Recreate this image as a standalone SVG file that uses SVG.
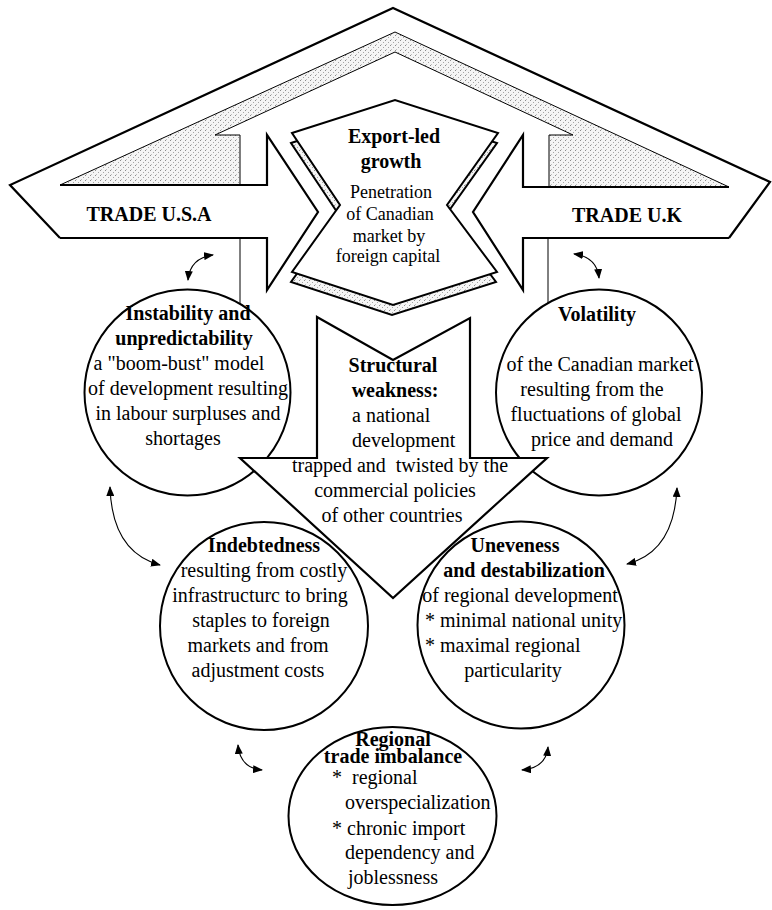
<svg xmlns="http://www.w3.org/2000/svg" width="772" height="910" viewBox="0 0 772 910">
<defs>
<pattern id="dots" width="5" height="5" patternUnits="userSpaceOnUse">
<rect width="5" height="5" fill="#f5f5f5"/>
<rect x="0" y="0" width="1" height="1" fill="#8c8c8c"/>
<rect x="3" y="2" width="1" height="1" fill="#a5a5a5"/>
<rect x="1" y="4" width="1" height="1" fill="#c0c0c0"/>
</pattern>
<marker id="ah" viewBox="0 0 10 8" refX="9" refY="4" markerWidth="10" markerHeight="8" markerUnits="userSpaceOnUse" orient="auto-start-reverse"><path d="M0,0 L10,4 L0,8 Z" fill="#000"/></marker>
</defs>
<style>
.thick{fill:none;stroke:#000;stroke-width:2.2;stroke-linejoin:miter}
.thin{fill:none;stroke:#000;stroke-width:1}
.t{font-family:"Liberation Serif","Times New Roman",serif;fill:#000;text-anchor:middle;font-size:20px}
.b{font-weight:bold}
.s18{font-size:18px}
.circ{stroke:#000;stroke-width:2}
.conn{fill:none;stroke:#000;stroke-width:1.1;marker-start:url(#ah);marker-end:url(#ah)}
</style>
<rect width="772" height="910" fill="#fff"/>

<g id="roof">
<polygon points="60,185 395,32 729,187 549,187 549,135 573,135 395,52 215,135 240,135 240,185" fill="url(#dots)" stroke="none"/>
<path class="thin" d="M60,185 L395,32 L729,187"/>
<path class="thin" d="M240,185 L240,135 L215,135 L395,52 L573,135 L549,135 L549,187"/>
<path class="thin" d="M240,238 L240,320 M548,238 L548,320"/>
<path class="thick" d="M60,238 L10,185 L393,8 L770,182 L729,238"/>
</g>

<g id="trade-usa">
<path class="thick" d="M60,185 L267,185 L267,135 L318,212 L267,290 L267,238 L60,238"/>
<text class="t b" x="149" y="221">TRADE U.S.A</text>
</g>

<g id="trade-uk">
<path class="thick" d="M729,187 L523,187 L523,135 L473,212 L523,290 L523,238 L729,238"/>
<text class="t b" x="627" y="222">TRADE U.K</text>
</g>

<g id="export-led">
<polygon transform="translate(-1,10)" points="292,133 395,100 498,133 447,205 497,272 393,305 292,272 340,205" fill="url(#dots)" stroke="#000" stroke-width="2"/>
<polygon points="292,133 395,100 498,133 447,205 497,272 393,305 292,272 340,205" fill="#fff" stroke="#000" stroke-width="2"/>
<text class="t b" x="394" y="143">Export-led</text>
<text class="t b" x="391" y="168">growth</text>
<text class="t s18" x="391" y="198">Penetration</text>
<text class="t s18" x="390" y="220">of Canadian</text>
<text class="t s18" x="389" y="242">market by</text>
<text class="t s18" x="388" y="262">foreign capital</text>
</g>

<g id="instability">
<circle class="circ" cx="187.5" cy="392.5" r="103" fill="#fff"/>
<text class="t b" x="188" y="320">Instability and</text>
<text class="t b" x="184" y="345">unpredictability</text>
<text class="t" x="179" y="370">a "boom-bust" model</text>
<text class="t" x="188" y="395">of development resulting</text>
<text class="t" x="188" y="420">in labour surpluses and</text>
<text class="t" x="183" y="445">shortages</text>
</g>

<g id="volatility">
<circle class="circ" cx="599" cy="392.5" r="103" fill="#fff"/>
<text class="t b" x="597" y="321">Volatility</text>
<text class="t" x="600" y="371">of the Canadian market</text>
<text class="t" x="592" y="396">resulting from the</text>
<text class="t" x="596" y="421">fluctuations of global</text>
<text class="t" x="602" y="446">price and demand</text>
</g>

<g id="structural-weakness">
<polygon points="317,317 393,360 470,318 470,458 547,458 393,598 240,458 317,458" fill="#fff" stroke="#000" stroke-width="2.2" stroke-linejoin="miter"/>
<text class="t b" x="393" y="372">Structural</text>
<text class="t b" x="395" y="397">weakness:</text>
<text class="t" x="352" y="422" style="text-anchor:start">a national</text>
<text class="t" x="352" y="447" style="text-anchor:start">development</text>
<text class="t" x="400" y="472" xml:space="preserve">trapped and  twisted by the</text>
<text class="t" x="395" y="497">commercial policies</text>
<text class="t" x="392" y="522">of other countries</text>
</g>

<g id="indebtedness">
<circle class="circ" cx="264" cy="626" r="104" fill="none"/>
<text class="t b" x="264" y="552">Indebtedness</text>
<text class="t" x="264" y="577">resulting from costly</text>
<text class="t" x="260" y="602">infrastructurc to bring</text>
<text class="t" x="261" y="627">staples to foreign</text>
<text class="t" x="258" y="652">markets and from</text>
<text class="t" x="258" y="677">adjustment costs</text>
</g>

<g id="uneveness">
<circle class="circ" cx="521" cy="625" r="103.5" fill="none"/>
<text class="t b" x="515" y="552">Uneveness</text>
<text class="t b" x="524" y="577">and destabilization</text>
<text class="t" x="520" y="602">of regional development</text>
<text class="t" x="425" y="627" style="text-anchor:start">* minimal national unity</text>
<text class="t" x="425" y="652" style="text-anchor:start">* maximal regional</text>
<text class="t" x="513" y="677">particularity</text>
</g>

<g id="regional-trade-imbalance">
<ellipse class="circ" cx="392.5" cy="816" rx="104" ry="89" fill="none"/>
<text class="t b" x="393" y="746">Regional</text>
<text class="t b" x="393" y="763">trade imbalance</text>
<text class="t" x="332" y="784" xml:space="preserve" style="text-anchor:start">*  regional</text>
<text class="t" x="345" y="809" style="text-anchor:start">overspecialization</text>
<text class="t" x="332" y="835" style="text-anchor:start">* chronic import</text>
<text class="t" x="345" y="859" style="text-anchor:start">dependency and</text>
<text class="t" x="348" y="884" style="text-anchor:start">joblessness</text>
</g>

<g id="connectors">
<path class="conn" d="M213,255 Q190,258 188,280"/>
<path class="conn" d="M574,254 Q597,257 599,278"/>
<path class="conn" d="M110,487 Q112,552 160,565"/>
<path class="conn" d="M677,488 Q674,552 627,564"/>
<path class="conn" d="M238,745 Q240,768 262,770"/>
<path class="conn" d="M548,747 Q546,768 522,770"/>
</g>
</svg>
